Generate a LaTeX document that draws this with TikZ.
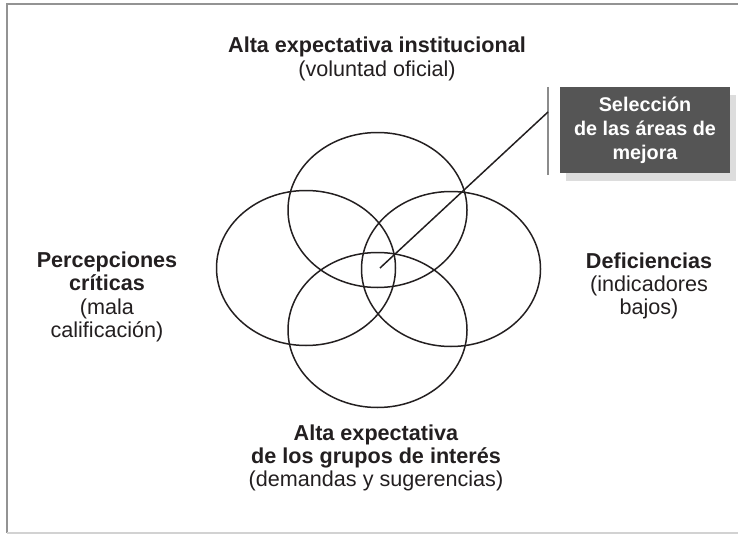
\documentclass[tikz,border=0pt]{standalone}
\usepackage{fontspec}
\setmainfont{Liberation Sans}
\usepackage{tikz}
\usetikzlibrary{calc,positioning,shadows}
\definecolor{tinta}{HTML}{231F20}
\definecolor{gris}{HTML}{555555}
\tikzset{%
	titulo/.style   = {align=center, text=tinta, font=\fontsize{10.8}{11.6}\selectfont}, % Labels
	caja/.style     = {rectangle, fill=gris, text=white, align=center, minimum width=85pt, minimum height=43pt,
	                   font=\fontsize{9.9}{12}\selectfont\bfseries,
	                   drop shadow={shadow xshift=3pt, shadow yshift=-4pt, fill=gray!45, opacity=0.6}}, % Box
	circulo/.style  = {draw=tinta, line width=0.75pt}, % Circles
	marco/.style    = {draw=gray!85, line width=0.9pt}, % Frame
	barra/.style    = {draw=gray!90, line width=1.1pt}, % Bar
}

\begin{document}
\begin{tikzpicture}[x=0.5pt, y=-0.5pt]
		\useasboundingbox (0,0) rectangle (738,535);
		\draw[marco] (738,4) -- (7,4) -- (7,533);
		\draw[marco, draw=gray!35] (7,533) -- (738,533);
		% circles
		\coordinate (arriba) at (377.5,210);
		\coordinate (izq) at (306,268);
		\coordinate (der) at (451,269);
		\coordinate (abajo) at (377.5,330);
		\foreach \c in {arriba,izq,der,abajo}
			\draw[circulo] (\c) ellipse (89.5 and 77.5);
		% labels
		\node[titulo] (inst) at (377,59) {\textbf{Alta expectativa institucional}\\(voluntad oficial)};
		\node[titulo] (perc) at (107,297) {\textbf{Percepciones}\\\textbf{críticas}\\(mala\\calificación)};
		\node[titulo] (defi) at (649,286) {\textbf{Deficiencias}\\(indicadores\\bajos)};
		\node[titulo] (grup) at (376,458) {\textbf{Alta expectativa}\\\textbf{de los grupos de interés}\\(demandas y sugerencias)};
		% selection box
		\node[caja] (sel) at (645,130) {Selección\\de las áreas de\\mejora};
		\coordinate (bsup) at (548,87);
		\coordinate (binf) at (548,175);
		\coordinate (punto) at (380,268);
		\coordinate (toque) at (548,112);
		\draw[barra] (bsup) -- (binf);
		\draw[circulo] (punto) -- (toque);
		\end{tikzpicture}
\end{document}
